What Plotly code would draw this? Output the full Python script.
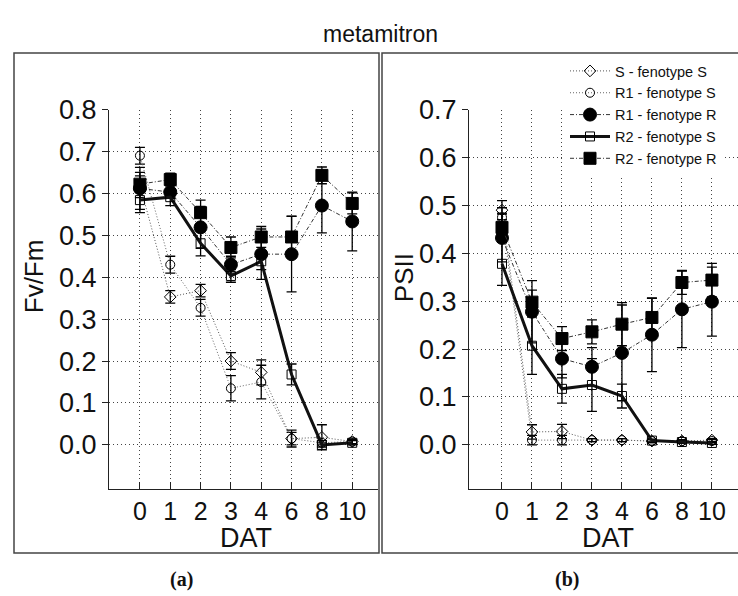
import plotly.graph_objects as go

days = ['0', '1', '2', '3', '4', '6', '8', '10']
legend_names = ['S - fenotype S', 'R1 - fenotype S', 'R1 - fenotype R',
                'R2 - fenotype S', 'R2 - fenotype R']

# (a) Fv/Fm
fv_s_s = [0.62, 0.353, 0.368, 0.200, 0.173, 0.015, 0.018, 0.008]
fv_s_s_err = [0.03, 0.015, 0.015, 0.02, 0.03, 0.015, 0.03, 0.005]
fv_r1_s = [0.69, 0.43, 0.327, 0.135, 0.15, 0.015, 0.005, 0.008]
fv_r1_s_err = [0.02, 0.02, 0.02, 0.03, 0.04, 0.02, 0.005, 0.005]
fv_r1_r = [0.612, 0.603, 0.519, 0.43, 0.455, 0.455, 0.571, 0.533]
fv_r1_r_err = [0.05, 0.015, 0.05, 0.02, 0.06, 0.09, 0.065, 0.07]
fv_r2_s = [0.584, 0.591, 0.481, 0.403, 0.438, 0.168, 0.0, 0.005]
fv_r2_s_err = [0.03, 0.02, 0.03, 0.015, 0.02, 0.025, 0.005, 0.005]
fv_r2_r = [0.622, 0.633, 0.554, 0.471, 0.496, 0.496, 0.643, 0.576]
fv_r2_r_err = [0.02, 0.015, 0.03, 0.025, 0.025, 0.05, 0.02, 0.025]

# (b) PSII
ps_s_s = [0.49, 0.027, 0.028, 0.01, 0.01, 0.008, 0.008, 0.01]
ps_s_s_err = [0.02, 0.015, 0.015, 0.003, 0.003, 0.003, 0.003, 0.003]
ps_r1_s = [0.475, 0.01, 0.01, 0.01, 0.01, 0.008, 0.008, 0.008]
ps_r1_s_err = [0.02, 0.01, 0.01, 0.003, 0.003, 0.003, 0.003, 0.003]
ps_r1_r = [0.432, 0.278, 0.18, 0.163, 0.192, 0.23, 0.283, 0.299]
ps_r1_r_err = [0.05, 0.065, 0.04, 0.04, 0.1, 0.077, 0.08, 0.072]
ps_r2_s = [0.378, 0.207, 0.117, 0.125, 0.102, 0.009, 0.006, 0.004]
ps_r2_s_err = [0.045, 0.06, 0.03, 0.055, 0.025, 0.003, 0.003, 0.003]
ps_r2_r = [0.454, 0.298, 0.222, 0.236, 0.252, 0.266, 0.339, 0.344]
ps_r2_r_err = [0.03, 0.025, 0.025, 0.025, 0.045, 0.04, 0.025, 0.035]

styles = [
    dict(symbol='diamond-open', size=9, lcolor='#555', lwidth=1, dash='1px,2px'),
    dict(symbol='circle-open', size=9, lcolor='#666', lwidth=1, dash='1px,2px'),
    dict(symbol='circle', size=13, lcolor='#333', lwidth=1, dash='4px,2px,1px,2px'),
    dict(symbol='square-open', size=9, lcolor='#111', lwidth=3, dash='solid'),
    dict(symbol='square', size=12, lcolor='#333', lwidth=1, dash='4px,2px,1px,2px'),
]

fv_series = [(fv_s_s, fv_s_s_err), (fv_r1_s, fv_r1_s_err), (fv_r1_r, fv_r1_r_err),
             (fv_r2_s, fv_r2_s_err), (fv_r2_r, fv_r2_r_err)]
ps_series = [(ps_s_s, ps_s_s_err), (ps_r1_s, ps_r1_s_err), (ps_r1_r, ps_r1_r_err),
             (ps_r2_s, ps_r2_s_err), (ps_r2_r, ps_r2_r_err)]

W, H = 738, 596
fig = go.Figure()

for panel, series in enumerate([fv_series, ps_series]):
    xa = 'x' if panel == 0 else 'x2'
    ya = 'y' if panel == 0 else 'y2'
    for name, st, (vals, errs) in zip(legend_names, styles, series):
        fig.add_trace(go.Scatter(
            x=days, y=vals, xaxis=xa, yaxis=ya,
            mode='lines+markers', name=name,
            showlegend=(panel == 1),
            line=dict(color=st['lcolor'], width=st['lwidth'], dash=st['dash']),
            marker=dict(symbol=st['symbol'], size=st['size'], color='black',
                        line=dict(color='black', width=1)),
            error_y=dict(type='data', array=errs, visible=True,
                         color='black', thickness=1.3, width=5),
        ))

def px_x(p):
    return p / W

def px_y(p):
    return 1 - p / H

axis_common = dict(
    showgrid=True, gridcolor='#444', griddash='1px,3px', gridwidth=1,
    showline=True, linecolor='#222', linewidth=1.3,
    zeroline=False, mirror=False,
)
xtick_font = dict(size=25, family='Liberation Sans Narrow, Arial Narrow, Liberation Sans')

fig.update_layout(
    width=W, height=H,
    margin=dict(l=0, r=0, t=0, b=0),
    paper_bgcolor='white', plot_bgcolor='white',
    showlegend=True,
    font=dict(family='Liberation Sans, Arial, sans-serif', color='#111'),
    xaxis=dict(axis_common, domain=[px_x(109), px_x(378)], anchor='y',
               type='category', range=[-1.02, 7.85],
               tickmode='array', tickvals=days, ticktext=days,
               ticks='inside', ticklen=7, tickcolor='#222', tickfont=xtick_font),
    yaxis=dict(axis_common, domain=[px_y(486), px_y(97)], anchor='x',
               range=[-0.1047, 0.8], tickvals=[0, 0.1, 0.2, 0.3, 0.4, 0.5, 0.6, 0.7, 0.8],
               tickformat='.1f', ticks='outside', ticklen=6, tickcolor='#222',
               tickfont=dict(size=27)),
    xaxis2=dict(axis_common, domain=[px_x(469), 1.0], anchor='y2',
                type='category', range=[-1.1, 7.87],
                tickmode='array', tickvals=days, ticktext=days,
                ticks='inside', ticklen=7, tickcolor='#222', tickfont=xtick_font),
    yaxis2=dict(axis_common, domain=[px_y(486), px_y(97)], anchor='x2',
                range=[-0.0916, 0.7], tickvals=[0, 0.1, 0.2, 0.3, 0.4, 0.5, 0.6, 0.7],
                tickformat='.1f', ticks='outside', ticklen=6, tickcolor='#222',
                tickfont=dict(size=27)),
    legend=dict(x=px_x(565), y=px_y(41), xanchor='left', yanchor='top',
                bgcolor='white', borderwidth=0, itemwidth=40,
                font=dict(size=14.5, color='#111'), tracegroupgap=0),
)

# panel frames
fig.add_shape(type='rect', xref='paper', yref='paper',
              x0=px_x(14), x1=px_x(379), y0=px_y(552), y1=px_y(39),
              line=dict(color='#444', width=1.5))
fig.add_shape(type='rect', xref='paper', yref='paper',
              x0=px_x(382), x1=px_x(745), y0=px_y(552), y1=px_y(39),
              line=dict(color='#444', width=1.5))

ann = [
    dict(text='metamitron', x=px_x(380), y=px_y(20), size=23, angle=0,
         family='Liberation Sans, Arial'),
    dict(text='Fv/Fm', x=px_x(34), y=px_y(268), size=26, angle=-90,
         family='Liberation Sans, Arial'),
    dict(text='PSII', x=px_x(404), y=px_y(270), size=26, angle=-90,
         family='Liberation Sans, Arial'),
    dict(text='DAT', x=px_x(246), y=px_y(537), size=27, angle=0,
         family='Liberation Sans Narrow, Arial Narrow, Liberation Sans'),
    dict(text='DAT', x=px_x(608), y=px_y(537), size=27, angle=0,
         family='Liberation Sans Narrow, Arial Narrow, Liberation Sans'),
    dict(text='<b>(a)</b>', x=px_x(181), y=px_y(579), size=20, angle=0,
         family='Liberation Serif, DejaVu Serif, serif'),
    dict(text='<b>(b)</b>', x=px_x(567), y=px_y(579), size=20, angle=0,
         family='Liberation Serif, DejaVu Serif, serif'),
]
for a in ann:
    fig.add_annotation(text=a['text'], x=a['x'], y=a['y'], xref='paper', yref='paper',
                       xanchor='center', yanchor='middle', showarrow=False,
                       textangle=a['angle'],
                       font=dict(size=a['size'], family=a['family'], color='#111'))

fig.write_html("out.html", config={'displayModeBar': False},
               post_script="document.body.style.margin='0';")
